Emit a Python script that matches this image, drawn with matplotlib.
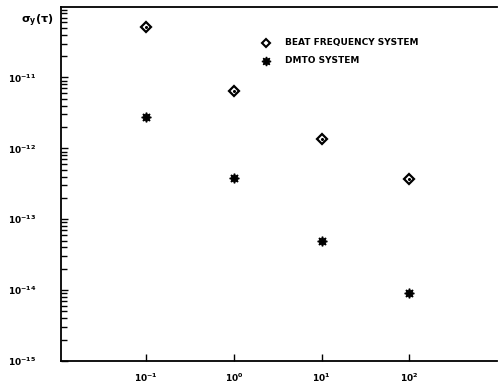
import matplotlib
matplotlib.use("Agg")
import matplotlib.pyplot as plt
from matplotlib.ticker import LogLocator, NullLocator, FixedLocator
import numpy as np

tau = [0.1, 1, 10, 100]
beat_freq = [5.2e-11, 6.4e-12, 1.35e-12, 3.7e-13]
dmto = [2.75e-12, 3.8e-13, 4.95e-14, 9.1e-15]

xtick_vals = [1e-1, 1e0, 1e1, 1e2]
xtick_labels = [r"$\mathbf{10^{-1}}$", r"$\mathbf{10^{0}}$", r"$\mathbf{10^{1}}$", r"$\mathbf{10^{2}}$"]
ytick_vals = [1e-15, 1e-14, 1e-13, 1e-12, 1e-11]
ytick_labels = [r"$\mathbf{10^{-15}}$", r"$\mathbf{10^{-14}}$", r"$\mathbf{10^{-13}}$",
                r"$\mathbf{10^{-12}}$", r"$\mathbf{10^{-11}}$"]

fig = plt.figure(figsize=(4.98, 3.86), dpi=100)
ax = fig.add_axes([0.1225, 0.065, 0.875, 0.918])

ax.set_xscale("log"); ax.set_yscale("log")
ax.set_xlim(1.06e-2, 1e3)
ax.set_ylim(1e-15, 1e-10)

ax.plot(tau, beat_freq, linestyle="none", marker="D", markersize=5,
        markerfacecolor="white", markeredgecolor="black", markeredgewidth=1.6)
ax.plot(tau, beat_freq, linestyle="none", marker="o", markersize=1.2, color="black")
ax.plot(tau, dmto, linestyle="none", marker=(8, 1, 0), markersize=7, color="black")

# legend drawn by hand in axes coords
ax.plot([0.471], [0.898], transform=ax.transAxes, linestyle="none", marker="D", markersize=4.5,
        markerfacecolor="white", markeredgecolor="black", markeredgewidth=1.5, clip_on=False)
ax.text(0.513, 0.898, "BEAT FREQUENCY SYSTEM", transform=ax.transAxes, fontsize=6.5,
        fontweight="bold", va="center", ha="left")
ax.plot([0.471], [0.847], transform=ax.transAxes, linestyle="none", marker=(8, 1, 0),
        markersize=6.5, color="black", clip_on=False)
ax.text(0.513, 0.847, "DMTO SYSTEM", transform=ax.transAxes, fontsize=6.5,
        fontweight="bold", va="center", ha="left")

ax.xaxis.set_major_locator(FixedLocator(xtick_vals))
ax.set_xticklabels(xtick_labels)
ax.xaxis.set_minor_locator(NullLocator())
ax.yaxis.set_major_locator(FixedLocator(ytick_vals))
ax.set_yticklabels(ytick_labels)
ax.yaxis.set_minor_locator(LogLocator(base=10, subs=np.arange(2, 10), numticks=20))

ax.tick_params(axis="both", which="both", direction="in", width=1.0, labelsize=6.5)
ax.tick_params(axis="x", which="major", length=5, pad=8)
ax.tick_params(axis="y", which="major", length=5, pad=18)
ax.tick_params(axis="y", which="minor", length=4)

for s in ["left", "bottom", "top"]:
    ax.spines[s].set_linewidth(1.3)
ax.spines["right"].set_visible(False)

fig.text(0.042, 0.945, r"$\mathbf{\sigma_y(\tau)}$", fontsize=8, ha="left", va="center")

plt.savefig("out.png", dpi=100)
print("saved")
